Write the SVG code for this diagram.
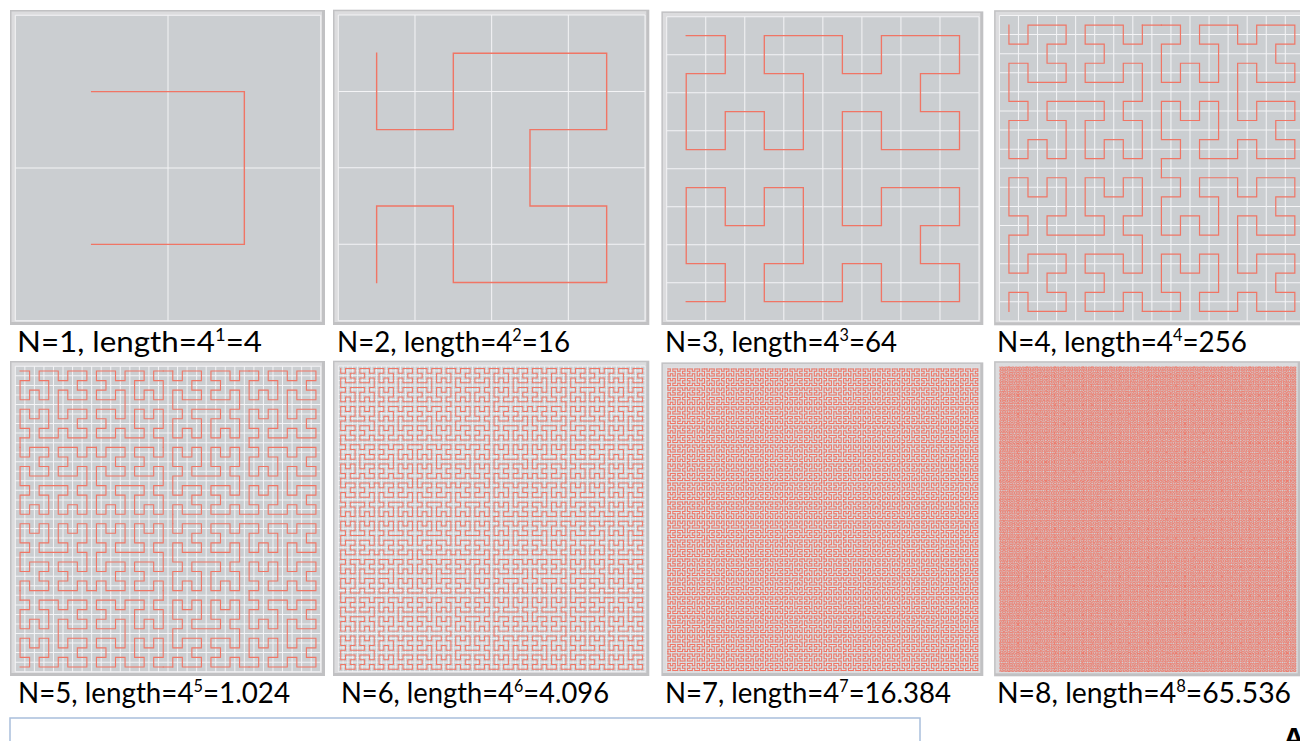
<svg xmlns="http://www.w3.org/2000/svg" width="1300" height="741" viewBox="0 0 1300 741">
<style>
.frame{fill:#c1c1c3}
.band{fill:#dcdcde}
.bg{fill:#cbced1}
.grid{fill:none;stroke:#f4f4f6}
.curve{fill:none;stroke:#f07565;stroke-linecap:square;stroke-linejoin:miter}
.lbl{font-family:Lato,"Open Sans","Liberation Sans",sans-serif;font-size:29px;fill:#000}
.sup{font-size:17px}
</style>
<defs>
<path id="h1" d="M0,0H1V1H0"/>
<path id="h2" d="M0,0V1H1V0H3V1H2V2H3V3H1V2H0V3"/>
<path id="h3" d="M0,0H1V1H0V3H1V2H2V3H3V1H2V0H4V1H5V0H7V1H6V2H7V3H5V2H4V5H5V4H7V5H6V6H7V7H5V6H4V7H2V6H3V4H2V5H1V4H0V6H1V7H0"/>
<g id="h4">
<use href="#h3" transform="matrix(0,1,1,0,0,0)"/>
<use href="#h3" transform="translate(8,0)"/>
<use href="#h3" transform="translate(8,8)"/>
<use href="#h3" transform="matrix(0,-1,-1,0,7,15)"/>
<path d="M7,0H8M8,7V8M8,15H7"/>
</g>
<g id="h5">
<use href="#h4" transform="matrix(0,1,1,0,0,0)"/>
<use href="#h4" transform="translate(16,0)"/>
<use href="#h4" transform="translate(16,16)"/>
<use href="#h4" transform="matrix(0,-1,-1,0,15,31)"/>
<path d="M15,0H16M16,15V16M16,31H15"/>
</g>
<g id="h6">
<use href="#h5" transform="matrix(0,1,1,0,0,0)"/>
<use href="#h5" transform="translate(32,0)"/>
<use href="#h5" transform="translate(32,32)"/>
<use href="#h5" transform="matrix(0,-1,-1,0,31,63)"/>
<path d="M31,0H32M32,31V32M32,63H31"/>
</g>
<g id="h7">
<use href="#h6" transform="matrix(0,1,1,0,0,0)"/>
<use href="#h6" transform="translate(64,0)"/>
<use href="#h6" transform="translate(64,64)"/>
<use href="#h6" transform="matrix(0,-1,-1,0,63,127)"/>
<path d="M63,0H64M64,63V64M64,127H63"/>
</g>
<g id="h8">
<use href="#h7" transform="matrix(0,1,1,0,0,0)"/>
<use href="#h7" transform="translate(128,0)"/>
<use href="#h7" transform="translate(128,128)"/>
<use href="#h7" transform="matrix(0,-1,-1,0,127,255)"/>
<path d="M127,0H128M128,127V128M128,255H127"/>
</g>
</defs>
<rect width="1300" height="741" fill="#ffffff"/>

<g id="panel-n1">
<rect class="frame" x="10" y="10" width="315" height="315"/>
<rect class="band" x="11.5" y="11.5" width="310.5" height="310.5"/>
<rect class="bg" x="15.3" y="15.3" width="305.4" height="305.4"/>
<line class="grid" x1="14.8" y1="168" x2="321.2" y2="168" stroke-width="305.4" stroke-dasharray="1 151.7"/>
<line class="grid" x1="168" y1="14.8" x2="168" y2="321.2" stroke-width="305.4" stroke-dasharray="1 151.7"/>
<use href="#h1" class="curve" transform="translate(91.65,91.65) scale(152.7)" stroke-width="0.00917"/>
</g>

<g id="panel-n2">
<rect class="frame" x="333" y="9.7" width="316.3" height="315.3"/>
<rect class="band" x="334.5" y="11.2" width="311.8" height="310.8"/>
<rect class="bg" x="338.3" y="15" width="306.7" height="305.7"/>
<line class="grid" x1="337.8" y1="167.85" x2="645.5" y2="167.85" stroke-width="305.7" stroke-dasharray="1 75.675"/>
<line class="grid" x1="491.65" y1="14.5" x2="491.65" y2="321.2" stroke-width="306.7" stroke-dasharray="1 75.425"/>
<use href="#h2" class="curve" transform="translate(376.64,53.21) scale(76.675,76.425)" stroke-width="0.0183"/>
</g>

<g id="panel-n3">
<rect class="frame" x="661.4" y="11.4" width="321.9" height="313.6"/>
<rect class="band" x="662.9" y="12.9" width="317.4" height="309.1"/>
<rect class="bg" x="666.7" y="16.7" width="312.3" height="304"/>
<line class="grid" x1="666.2" y1="168.7" x2="979.5" y2="168.7" stroke-width="304" stroke-dasharray="1 38.04"/>
<line class="grid" x1="822.85" y1="16.2" x2="822.85" y2="321.2" stroke-width="312.3" stroke-dasharray="1 37"/>
<use href="#h3" class="curve" transform="translate(686.22,35.7) scale(39.04,38)" stroke-width="0.0338"/>
</g>

<g id="panel-n4">
<rect class="frame" x="994.1" y="10.2" width="314.6" height="315.1"/>
<rect class="band" x="995.6" y="11.7" width="310.1" height="310.6"/>
<rect class="bg" x="999.4" y="15.5" width="305" height="305.5"/>
<line class="grid" x1="998.9" y1="168.25" x2="1304.9" y2="168.25" stroke-width="305.5" stroke-dasharray="1 18.06"/>
<line class="grid" x1="1151.9" y1="15" x2="1151.9" y2="321.5" stroke-width="305" stroke-dasharray="1 18.09"/>
<use href="#h4" class="curve" transform="translate(1008.93,25.05) scale(19.06,19.09)" stroke-width="0.0629"/>
</g>

<g id="panel-n5">
<rect class="frame" x="10" y="361" width="315" height="315"/>
<rect class="band" x="11.5" y="362.5" width="310.5" height="310.5"/>
<rect class="bg" x="15.3" y="366.3" width="305.4" height="305.4"/>
<line class="grid" x1="14.8" y1="519" x2="321.2" y2="519" stroke-width="305.4" stroke-dasharray="1 8.544"/>
<line class="grid" x1="168" y1="365.8" x2="168" y2="672.2" stroke-width="305.4" stroke-dasharray="1 8.544"/>
<use href="#h5" class="curve" transform="translate(20.07,371.07) scale(9.544)" stroke-width="0.1153"/>
</g>

<g id="panel-n6">
<rect class="frame" x="333" y="360.7" width="316.3" height="315.3"/>
<rect class="band" x="334.5" y="362.2" width="311.8" height="310.8"/>
<rect class="bg" x="338.3" y="366" width="306.7" height="305.7"/>
<line class="grid" x1="337.9" y1="518.85" x2="645.4" y2="518.85" stroke-width="305.7" stroke-dasharray="0.8 3.992"/>
<line class="grid" x1="491.65" y1="365.6" x2="491.65" y2="672.1" stroke-width="306.7" stroke-dasharray="0.8 3.977"/>
<use href="#h6" class="curve" transform="translate(340.70,368.39) scale(4.792,4.777)" stroke-width="0.209"/>
</g>

<g id="panel-n7">
<rect class="frame" x="661.4" y="362.4" width="321.9" height="313.6"/>
<rect class="band" x="662.9" y="363.9" width="317.4" height="309.1"/>
<rect class="bg" x="666.7" y="367.7" width="312.3" height="304"/>
<line class="grid" x1="666.4" y1="519.7" x2="979.3" y2="519.7" stroke-width="304" stroke-dasharray="0.6 1.84" opacity="0.6"/>
<line class="grid" x1="822.85" y1="367.4" x2="822.85" y2="672" stroke-width="312.3" stroke-dasharray="0.6 1.775" opacity="0.6"/>
<use href="#h7" class="curve" transform="translate(667.92,368.89) scale(2.44,2.375)" stroke-width="0.42"/>
</g>

<g id="panel-n8">
<rect class="frame" x="994.1" y="361.2" width="306.6" height="315.1"/>
<rect class="band" x="995.6" y="362.7" width="302.1" height="310.6"/>
<rect class="bg" x="999.4" y="366.5" width="297" height="305.5"/>
<line class="grid" x1="999.2" y1="519.25" x2="1296.6" y2="519.25" stroke-width="305.5" stroke-dasharray="0.4 0.7602" opacity="0.25"/>
<line class="grid" x1="1147.9" y1="366.3" x2="1147.9" y2="672.2" stroke-width="297" stroke-dasharray="0.4 0.7934" opacity="0.25"/>
<use href="#h8" class="curve" transform="translate(999.98,367.1) scale(1.1602,1.1934)" stroke-width="0.7"/>
</g>

<g id="labels">
<text class="lbl" x="17" y="352" textLength="245" lengthAdjust="spacingAndGlyphs">N=1, length=4<tspan class="sup" dy="-11">1</tspan><tspan dy="11">=4</tspan></text>
<text class="lbl" x="337" y="352" textLength="233" lengthAdjust="spacingAndGlyphs">N=2, length=4<tspan class="sup" dy="-11">2</tspan><tspan dy="11">=16</tspan></text>
<text class="lbl" x="665" y="352" textLength="232" lengthAdjust="spacingAndGlyphs">N=3, length=4<tspan class="sup" dy="-11">3</tspan><tspan dy="11">=64</tspan></text>
<text class="lbl" x="997" y="352" textLength="250" lengthAdjust="spacingAndGlyphs">N=4, length=4<tspan class="sup" dy="-11">4</tspan><tspan dy="11">=256</tspan></text>
<text class="lbl" x="18" y="703" textLength="272" lengthAdjust="spacingAndGlyphs">N=5, length=4<tspan class="sup" dy="-11">5</tspan><tspan dy="11">=1.024</tspan></text>
<text class="lbl" x="341" y="703" textLength="268" lengthAdjust="spacingAndGlyphs">N=6, length=4<tspan class="sup" dy="-11">6</tspan><tspan dy="11">=4.096</tspan></text>
<text class="lbl" x="665" y="703" textLength="286" lengthAdjust="spacingAndGlyphs">N=7, length=4<tspan class="sup" dy="-11">7</tspan><tspan dy="11">=16.384</tspan></text>
<text class="lbl" x="997" y="703" textLength="294" lengthAdjust="spacingAndGlyphs">N=8, length=4<tspan class="sup" dy="-11">8</tspan><tspan dy="11">=65.536</tspan></text>
</g>

<g id="bottom-box">
<rect x="10" y="718" width="910" height="40" fill="#ffffff" stroke="#a9bfdc" stroke-width="1.5"/>
</g>
<text x="1283" y="748" font-family="'Liberation Sans',Arial,sans-serif" font-weight="bold" font-size="30" fill="#000">A</text>
</svg>
